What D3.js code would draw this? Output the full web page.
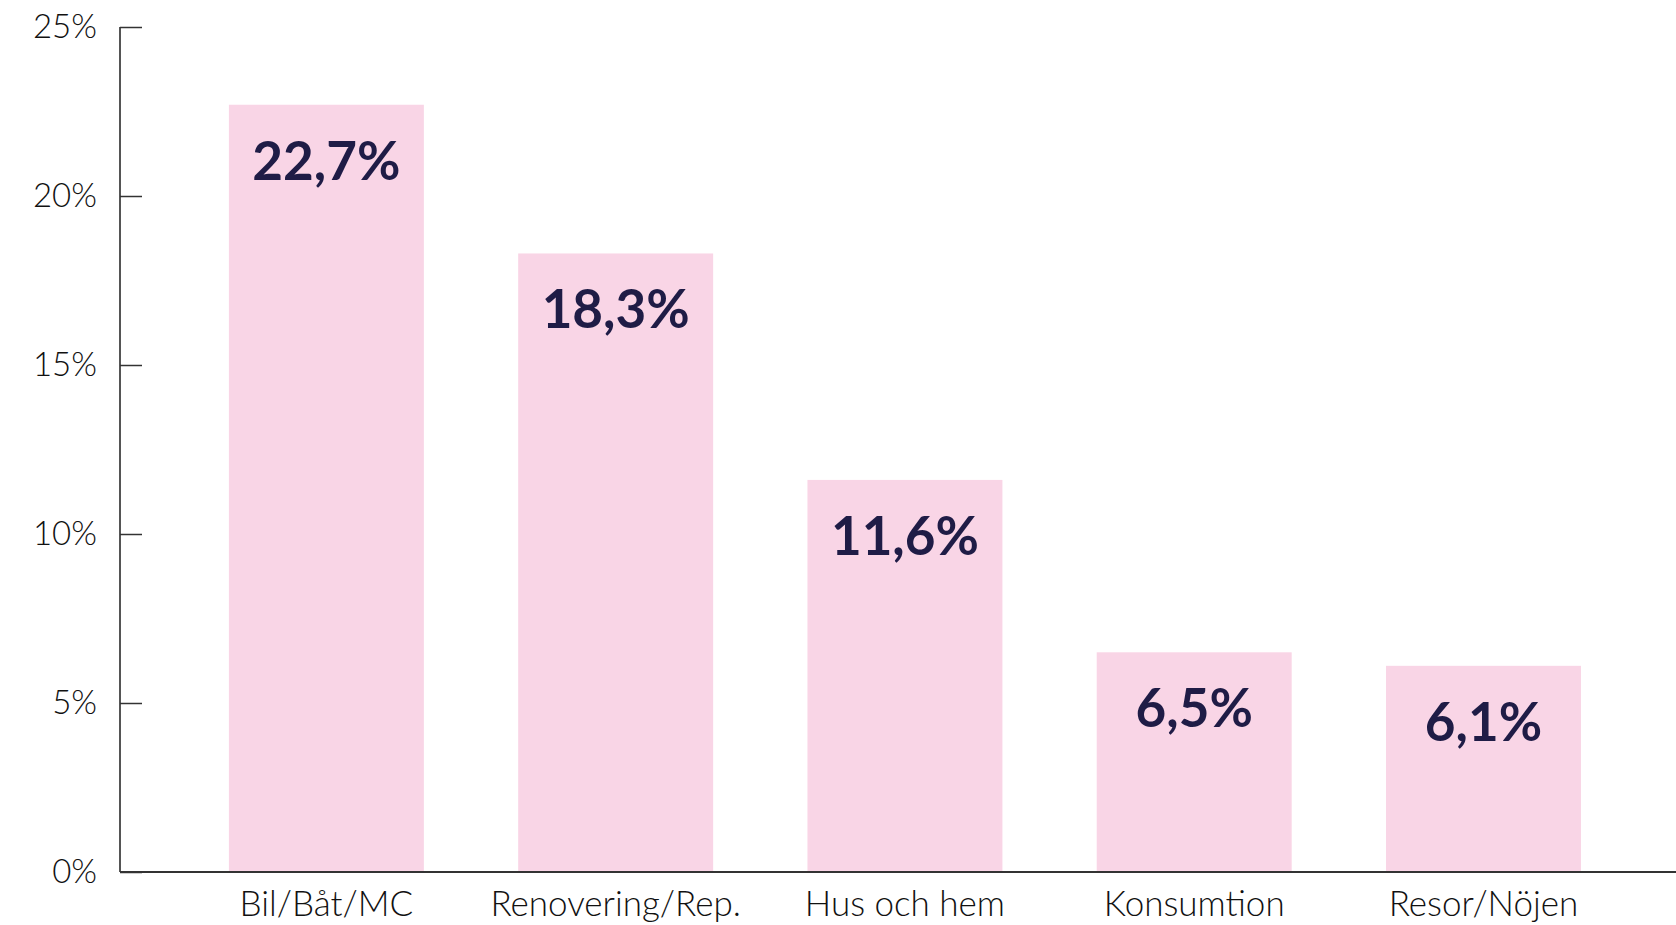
<!DOCTYPE html>
<html>
<head>
    <meta charset="utf-8">
    <title>Bar chart</title>
    <script src="https://d3js.org/d3.v7.min.js"></script>
    <style>
        body { margin: 0; background: #fff; }
    </style>
</head>
<body>
    <svg width="1676" height="925" id="mainSvg"></svg>
    <script>
        const categories = ["Bil/Båt/MC", "Renovering/Rep.", "Hus och hem", "Konsumtion", "Resor/Nöjen"];
        const values = [22.7, 18.3, 11.6, 6.5, 6.1];
        const labels = ["22,7%", "18,3%", "11,6%", "6,5%", "6,1%"];
        const yTicks = [0, 5, 10, 15, 20, 25];

        const svg = d3.select("#mainSvg");
        const axisX = 120, axisY = 872, topY = 27, rightX = 1676;

        const xScale = d3.scaleBand()
            .domain(categories)
            .range([axisX, rightX])
            .paddingInner(0.326)
            .paddingOuter(0.3525)
            .align(0.534);

        const yScale = d3.scaleLinear()
            .domain([0, 25])
            .range([axisY, topY]);

        // bars
        svg.append("g").selectAll("rect")
            .data(values)
            .join("rect")
            .attr("x", (d, i) => xScale(categories[i]))
            .attr("y", d => yScale(d))
            .attr("width", xScale.bandwidth())
            .attr("height", d => axisY - yScale(d))
            .attr("fill", "#f9d5e6");

        // value labels
        svg.append("g").selectAll("text")
            .data(values)
            .join("text")
            .attr("x", (d, i) => xScale(categories[i]) + xScale.bandwidth() / 2)
            .attr("y", d => yScale(d) + 75)
            .attr("text-anchor", "middle")
            .attr("font-family", "Lato, sans-serif")
            .attr("font-weight", 700)
            .attr("font-size", 53)
            .attr("fill", "#1f1c46")
            .text((d, i) => labels[i]);

        // y axis
        const yAxis = d3.axisLeft(yScale)
            .tickValues(yTicks)
            .tickSize(-22)
            .tickPadding(23)
            .tickFormat(d => d + "%");
        const yg = svg.append("g")
            .attr("transform", `translate(${axisX},0)`)
            .call(yAxis);
        yg.select(".domain").attr("d", `M0,${topY}V${axisY}`)
            .attr("stroke", "#555").attr("stroke-width", 2);
        yg.selectAll(".tick line").attr("stroke", "#333").attr("stroke-width", 1.5);
        yg.selectAll(".tick text")
            .attr("font-family", "Lato, sans-serif")
            .attr("font-weight", 300)
            .attr("font-size", 33)
            .attr("fill", "#111");

        // x axis
        const xAxis = d3.axisBottom(xScale).tickSize(0).tickPadding(19);
        const xg = svg.append("g")
            .attr("transform", `translate(0,${axisY})`)
            .call(xAxis);
        xg.select(".domain").attr("d", `M${axisX},0H${rightX}`)
            .attr("stroke", "#333").attr("stroke-width", 2);
        xg.selectAll(".tick text")
            .attr("font-family", "Lato, sans-serif")
            .attr("font-weight", 300)
            .attr("font-size", 35)
            .attr("fill", "#111");
    </script>
</body>
</html>
